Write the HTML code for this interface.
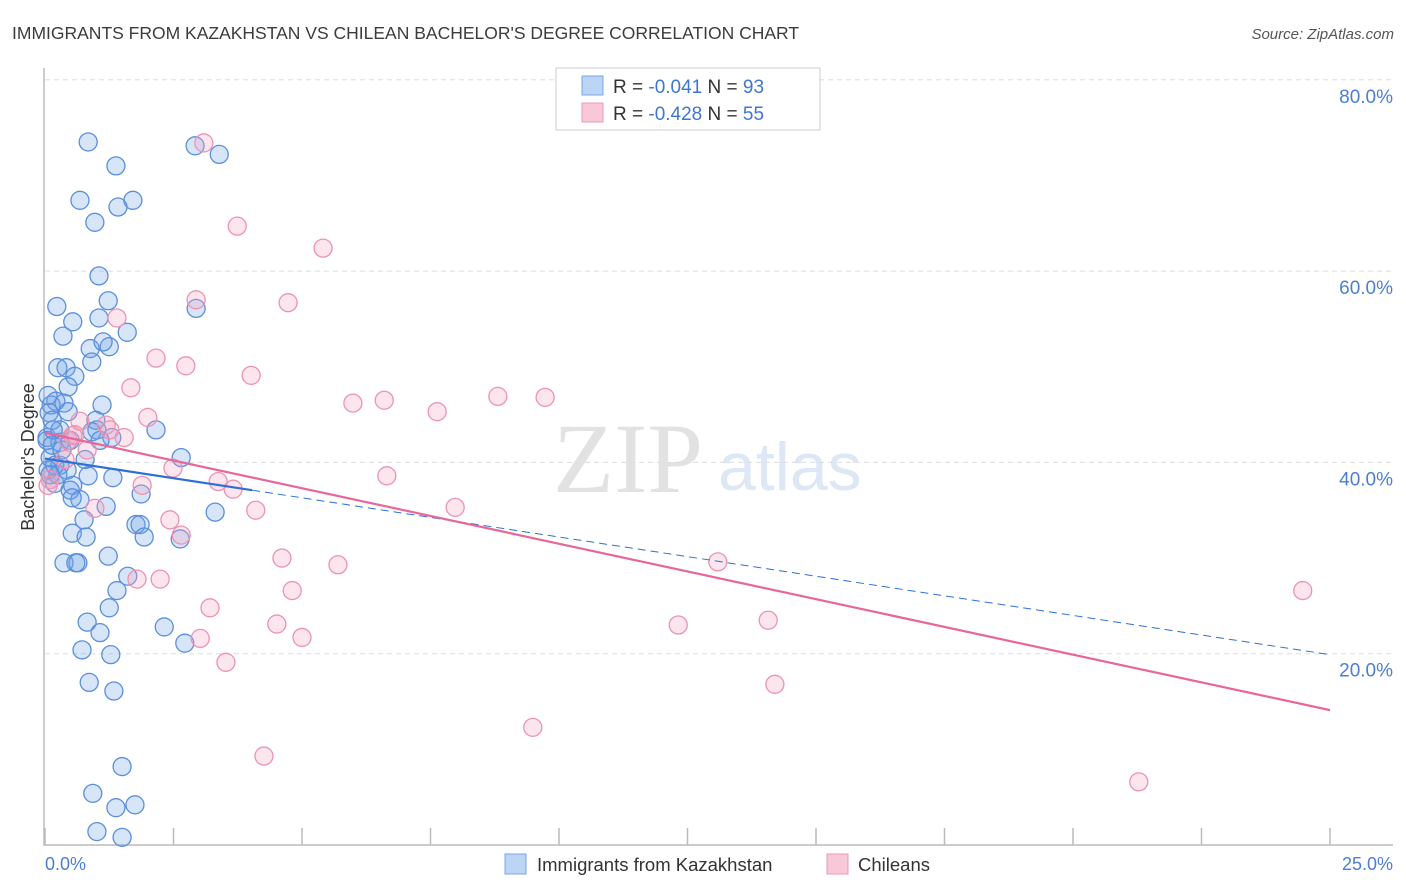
<!DOCTYPE html>
<html><head><meta charset="utf-8"><style>
body{margin:0;background:#fff;font-family:"Liberation Sans",sans-serif}
svg{display:block}
</style></head><body>
<svg id="chart" width="1406" height="892" xmlns="http://www.w3.org/2000/svg">
<text x="12" y="39" font-size="17.5" fill="#3c3c3c">IMMIGRANTS FROM KAZAKHSTAN VS CHILEAN BACHELOR'S DEGREE CORRELATION CHART</text>
<text x="1394" y="39" font-size="15" font-style="italic" fill="#555" text-anchor="end">Source: ZipAtlas.com</text>
<g>
<text x="553" y="492" font-family="Liberation Serif,serif" font-size="100" fill="#e2e2e2">ZIP</text>
<text x="718" y="490" font-size="68" fill="#dde7f5">atlas</text>
</g>
<g id="grid"></g>
<line x1="44" y1="68" x2="44" y2="846" stroke="#bbb" stroke-width="1.5"/>
<line x1="44" y1="845" x2="1393" y2="845" stroke="#bbb" stroke-width="1.5"/>
<g id="xticks"></g>
<g id="pts"></g>
<g id="trend"></g>
<text transform="translate(34,457) rotate(-90)" font-size="18" fill="#333" text-anchor="middle">Bachelor's Degree</text>
<text x="45" y="870" font-size="18" fill="#4a7fd4">0.0%</text>
<text x="1393" y="870" font-size="18" fill="#4a7fd4" text-anchor="end">25.0%</text>
<g>
<rect x="556" y="68" width="264" height="62" fill="#fff" stroke="#ccc"/>
<rect x="582" y="76" width="21" height="19" fill="#bcd4f5" stroke="#7aa5e6"/>
<rect x="582" y="103" width="21" height="19" fill="#f8c8d8" stroke="#eb98b5"/>
<text x="613" y="93" font-size="19" fill="#333">R = <tspan fill="#3f76d0">-0.041</tspan>   N = <tspan fill="#3f76d0">93</tspan></text>
<text x="613" y="120" font-size="19" fill="#333">R = <tspan fill="#3f76d0">-0.428</tspan>   N = <tspan fill="#3f76d0">55</tspan></text>
</g>
<g>
<rect x="505" y="854" width="21" height="20" fill="#bcd4f5" stroke="#7aa5e6"/>
<text x="537" y="871" font-size="18.5" fill="#333">Immigrants from Kazakhstan</text>
<rect x="827" y="854" width="21" height="20" fill="#f8c8d8" stroke="#eb98b5"/>
<text x="858" y="871" font-size="18.5" fill="#333">Chileans</text>
</g>
</svg>
<script>
const yTicks=[20,40,60,80];
const yTickLabels=["20.0%","40.0%","60.0%","80.0%"];
const xTickVals=[0,2.5,5,7.5,10,12.5,15,17.5,20,22.5,25];
const blueX=[0.84,2.92,3.39,1.38,0.68,1.42,1.71,0.97,1.05,1.23,0.23,2.94,1.05,0.54,1.60,0.35,0.88,1.25,1.13,0.91,0.25,0.41,0.58,0.45,0.21,1.11,0.12,0.37,0.08,0.14,0.99,1.01,2.16,0.04,1.30,0.29,0.91,0.10,2.65,0.29,0.43,0.84,1.32,0.54,0.19,0.49,1.87,0.68,3.31,1.19,0.76,1.77,1.85,1.93,2.63,0.53,0.80,1.23,0.37,0.64,0.60,1.61,1.40,1.25,0.82,1.07,2.32,2.72,0.72,1.28,0.86,1.34,1.50,0.93,1.75,1.38,1.01,1.50,0.06,0.04,0.14,0.29,0.45,0.49,0.19,0.25,0.06,0.16,0.33,0.10,0.53,0.78,1.07];
const blueY=[73.5,73.1,72.2,71.0,67.4,66.7,67.4,65.1,59.5,56.9,56.3,56.1,55.1,54.7,53.6,53.2,51.9,52.1,52.6,50.5,49.9,49.9,49.0,47.9,46.4,46.0,46.0,46.2,45.2,44.4,44.4,43.4,43.4,42.6,42.6,42.1,43.2,40.5,40.5,39.7,39.2,38.6,38.4,37.6,37.8,37.1,36.7,36.1,34.8,35.4,34.0,33.5,33.5,32.2,32.0,32.6,32.2,30.2,29.5,29.5,29.5,28.1,26.6,24.8,23.3,22.2,22.8,21.1,20.4,19.9,17.0,16.1,8.2,5.4,4.2,3.9,1.4,0.8,39.2,42.3,41.8,43.4,45.3,42.3,39.7,38.7,47.0,43.4,41.3,38.7,36.3,40.3,42.3];
const pinkX=[3.09,3.74,5.41,2.94,4.73,1.40,2.16,2.74,4.01,1.67,2.00,5.99,6.60,7.63,8.81,9.73,0.68,1.19,1.54,0.45,0.54,0.82,2.49,3.37,3.66,6.65,7.98,4.10,1.89,2.43,2.65,0.97,4.61,5.70,13.09,1.79,2.24,4.81,3.21,4.51,5.00,3.02,3.52,12.32,14.07,14.20,24.47,9.49,4.26,21.28,0.10,0.06,0.58,1.26,0.39];
const pinkY=[73.4,64.7,62.4,57.0,56.7,55.1,50.9,50.1,49.1,47.8,44.7,46.2,46.5,45.3,46.9,46.8,44.3,43.9,42.6,42.3,42.8,41.3,39.4,38.0,37.2,38.6,35.3,35.0,37.6,34.0,32.4,35.2,30.0,29.3,29.6,27.8,27.8,26.6,24.8,23.1,21.7,21.6,19.1,23.0,23.5,16.8,26.6,12.3,9.3,6.6,38.2,37.6,42.9,43.4,40.3];
const blueTrend=[40.4,19.9]; const blueSolidEnd=4.03;
const pinkTrend=[43.1,14.1];
const NS="http://www.w3.org/2000/svg";
const sx=v=>45+v/25*1285;
const sy=v=>845-v/20*191.3;
function mk(t,a,p){const e=document.createElementNS(NS,t);for(const k in a)e.setAttribute(k,a[k]);p.appendChild(e);return e;}
const grid=document.getElementById('grid');
yTicks.forEach((t,i)=>{
 const l=mk('line',{x1:45,x2:1393,y1:sy(t),y2:sy(t),stroke:'#ddd','stroke-dasharray':'5,4'},grid);
 
 
 const tx=mk('text',{x:1393,y:sy(t)+23,'font-size':19,fill:'#4a7fd4','text-anchor':'end'},grid);
 tx.textContent=yTickLabels[i];
 
 
});
const xt=document.getElementById('xticks');
xTickVals.forEach(v=>{
 const l=mk('line',{x1:sx(v),x2:sx(v),y1:828,y2:845,stroke:'#bbb','stroke-width':1.5},xt);
 
 
});
const pts=document.getElementById('pts');
blueX.forEach((x,i)=>{
 const c=mk('circle',{cx:sx(x),cy:sy(blueY[i]),r:9,fill:'rgba(110,160,230,0.28)',stroke:'#5b8fdc','stroke-width':1.3},pts);
 
 
});
pinkX.forEach((x,i)=>{
 const c=mk('circle',{cx:sx(x),cy:sy(pinkY[i]),r:9,fill:'rgba(245,160,190,0.28)',stroke:'#ec93b2','stroke-width':1.3},pts);
 
 
});
const tr=document.getElementById('trend');
const by=x=>blueTrend[0]+(blueTrend[1]-blueTrend[0])*x/25;
let l1=mk('line',{x1:sx(0),y1:sy(by(0)),x2:sx(blueSolidEnd),y2:sy(by(blueSolidEnd)),stroke:'#2f6fd6','stroke-width':2.2},tr);


let l2=mk('line',{x1:sx(blueSolidEnd),y1:sy(by(blueSolidEnd)),x2:sx(25),y2:sy(by(25)),stroke:'#2f6fd6','stroke-width':1,'stroke-dasharray':'8,5'},tr);


let l3=mk('line',{x1:sx(0),y1:sy(pinkTrend[0]),x2:sx(25),y2:sy(pinkTrend[1]),stroke:'#e8679a','stroke-width':2.2},tr);


</script>
</body></html>
